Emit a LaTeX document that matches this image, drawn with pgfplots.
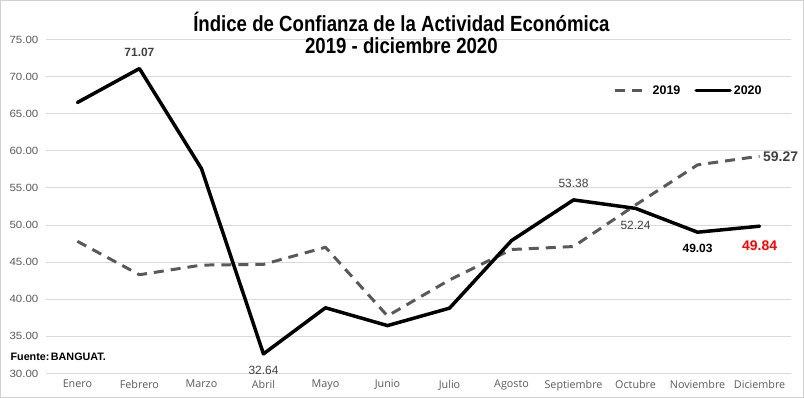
\documentclass[border=0pt]{standalone}
\usepackage{fontspec}
\setmainfont{Liberation Sans}
\newfontfamily\tickfont[FakeStretch=1.1]{Liberation Sans}
\newfontfamily\monthfont{Open Sans}
\newfontfamily\titlefont[FakeStretch=0.85]{Liberation Sans}
\usepackage{pgfplots}
\pgfplotsset{compat=1.18}
\definecolor{gridc}{HTML}{D9D9D9}
\definecolor{tickc}{HTML}{595959}
\definecolor{sA}{HTML}{595959}
\definecolor{lblc}{HTML}{404040}
\definecolor{framec}{HTML}{D0D0D0}
\definecolor{redl}{HTML}{FF0000}
\begin{document}
\begin{tikzpicture}
\begin{axis}[
  scale only axis, width=744bp, height=334bp,
  xmin=-0.5, xmax=11.5, ymin=30, ymax=75,
  ytick={30,35,...,75},
  xtick={0,...,11},
  xticklabels={Enero,Febrero,Marzo,Abril,Mayo,Junio,Julio,Agosto,Septiembre,Octubre,Noviembre,Diciembre},
  axis line style={draw=none},
  major tick length=0pt,
  ymajorgrids, grid style={gridc, line width=0.8pt},
  clip=false,
  /pgf/number format/assume math mode=true,
  y tick label style={/pgf/number format/fixed, /pgf/number format/fixed zerofill, /pgf/number format/precision=2,
    font=\tickfont\fontsize{10.5}{12}\selectfont, text=tickc, xshift=-4.5bp},
  x tick label style={font=\monthfont\fontsize{10.8}{12}\selectfont, text=tickc, yshift=-3bp},
  legend style={at={(rel axis cs:0.863,0.847)}, anchor=center, draw=none, fill=none,
    font=\bfseries\fontsize{12.5}{14}\selectfont, text=black},
  legend columns=2,
  legend cell align=left,
  /tikz/every even column/.append style={column sep=12bp},
  legend image code/.code={\draw[#1] (0bp,0bp) -- (34bp,0bp);},
]
\addplot[sA, line width=3pt, dash pattern=on 10bp off 7bp, line join=round] coordinates {
(0,47.8) (1,43.3) (2,44.6) (3,44.7) (4,47.0) (5,37.75) (6,42.6) (7,46.7) (8,47.1) (9,52.7) (10,58.1) (11,59.27)};
\addlegendentry{2019}
\addplot[black, line width=3.5pt, line join=round, line cap=round] coordinates {
(0,66.5) (1,71.07) (2,57.6) (3,32.64) (4,38.85) (5,36.45) (6,38.8) (7,47.9) (8,53.38) (9,52.24) (10,49.03) (11,49.84)};
\addlegendentry{2020}
\coordinate (ll) at (rel axis cs:0,0);
\coordinate (ur) at (rel axis cs:1,1);
\node[font=\bfseries\fontsize{12}{14}\selectfont, text=lblc] at (axis cs:1,73.25) {71.07};
\node[font=\fontsize{12}{14}\selectfont, text=lblc] at (axis cs:3,30.45) {32.64};
\node[font=\fontsize{12}{14}\selectfont, text=lblc] at (axis cs:8,55.6) {53.38};
\node[font=\fontsize{12}{14}\selectfont, text=lblc] at (axis cs:9,49.97) {52.24};
\node[font=\bfseries\fontsize{12}{14}\selectfont, text=black] at (axis cs:10,46.87) {49.03};
\node[font=\bfseries\fontsize{14}{16}\selectfont, text=redl] at (axis cs:11,47.27) {49.84};
\node[font=\bfseries\fontsize{14}{16}\selectfont, text=lblc] at (axis cs:11.34,59.14) {59.27};
\node[anchor=base, font=\titlefont\bfseries\fontsize{22}{24}\selectfont] at ([yshift=8bp]rel axis cs:0.477,1) {Índice de Confianza de la Actividad Económica};
\node[anchor=base, font=\titlefont\bfseries\fontsize{22}{24}\selectfont] at ([yshift=-14bp]rel axis cs:0.477,1) {2019 - diciembre 2020};
\node[anchor=west, inner sep=0pt, font=\bfseries\fontsize{10.8}{12}\selectfont] at ([xshift=-36bp]rel axis cs:0,0.051) {Fuente:\hspace{1.5bp}BANGUAT.};
\end{axis}
\draw[framec, line width=0.8pt] ([xshift=-46bp,yshift=-24bp]ll) rectangle ([xshift=13bp,yshift=39bp]ur);
\end{tikzpicture}
\end{document}
